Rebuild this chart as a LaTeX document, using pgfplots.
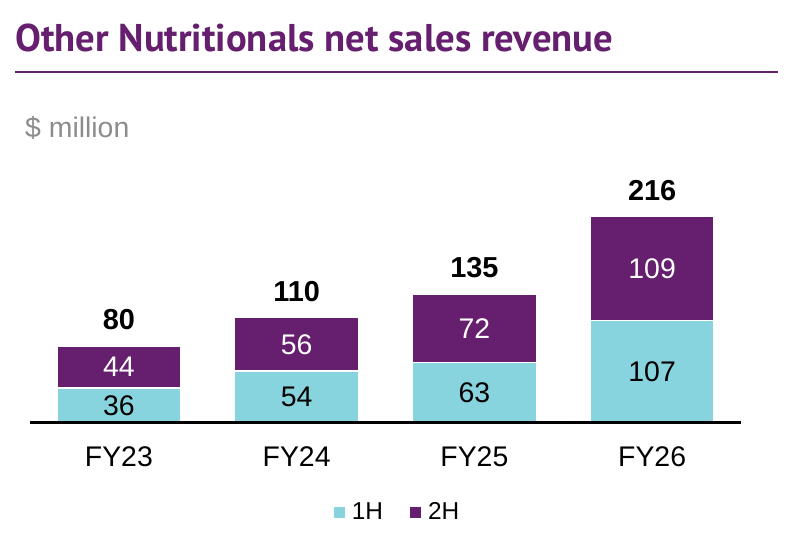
\documentclass[border=0pt]{standalone}
\usepackage{pgfplots}
\pgfplotsset{compat=1.18}
\usepackage{fontspec}
\setmainfont{Liberation Sans}
\newfontfamily\titlefont{PT Sans}
\definecolor{cyanbar}{HTML}{88D4DE}
\definecolor{purp}{HTML}{661E6E}
\definecolor{graytxt}{HTML}{8C8C8C}
\begin{document}
\begin{tikzpicture}[x=1bp,y=1bp]
\path[use as bounding box] (0,0) rectangle (800,535);
\node[anchor=base west, inner sep=0, text=purp, font=\titlefont\bfseries\fontsize{38.8}{42}\selectfont] at (15,483) {Other Nutritionals net sales revenue};
\draw[purp, line width=2.5bp] (15,463) -- (778,463);
\node[anchor=base west, inner sep=0, text=graytxt, font=\fontsize{28.5}{32}\selectfont] at (25,397) {\$ million};
\begin{axis}[
  at={(30bp,112.5bp)}, anchor=south west,
  scale only axis, width=711bp, height=205.8bp,
  xmin=-0.5, xmax=3.5, ymin=0, ymax=216,
  ybar stacked, bar width=124bp,
  axis x line*=bottom, axis y line=none,
  x axis line style={line width=3bp, black, -},
  axis on top,
  xtick={0,1,2,3}, xticklabels={FY23,FY24,FY25,FY26},
  major tick length=0,
  xticklabel style={anchor=base, yshift=-44bp, font=\fontsize{28.5}{32}\selectfont, inner sep=0},
  clip=false,
  legend columns=-1,
  legend style={at={(0.5155,-0.435)}, anchor=center, draw=none, fill=none,
    /tikz/every even column/.append style={column sep=27bp},
    /tikz/every odd column/.append style={column sep=7bp},
    nodes={inner sep=0pt, font=\fontsize{24.5}{28}\selectfont}},
  legend image code/.code={\path[#1, draw=none] (0bp,-5.5bp) rectangle (11bp,5.5bp);},
]
\addplot[fill=cyanbar, draw=white, line width=1.5bp] coordinates {(0,36) (1,54) (2,63) (3,107)};
\addplot[fill=purp, draw=white, line width=1.5bp] coordinates {(0,44) (1,56) (2,72) (3,109)};
\legend{1H,2H}
\end{axis}
\begin{axis}[
  at={(30bp,112.5bp)}, anchor=south west,
  scale only axis, width=711bp, height=205.8bp,
  xmin=-0.5, xmax=3.5, ymin=0, ymax=216,
  hide axis, clip=false,
]
\addplot[draw=none, mark=none, nodes near coords, point meta=explicit symbolic,
  nodes near coords style={anchor=center, inner sep=0, text=black, font=\fontsize{28.5}{32}\selectfont}]
  table[meta=lab] {
x y lab
0 18 36
1 27 54
2 31.5 63
3 53.5 107
};
\addplot[draw=none, mark=none, nodes near coords, point meta=explicit symbolic,
  nodes near coords style={anchor=center, inner sep=0, text=white, font=\fontsize{28.5}{32}\selectfont}]
  table[meta=lab] {
x y lab
0 58 44
1 82 56
2 99 72
3 161.5 109
};
\addplot[draw=none, mark=none, nodes near coords, point meta=explicit symbolic,
  nodes near coords style={anchor=base, inner sep=0, yshift=16.5bp, text=black, font=\bfseries\fontsize{29}{32}\selectfont}]
  table[meta=lab] {
x y lab
0 80 80
1 110 110
2 135 135
3 216 216
};
\end{axis}
\end{tikzpicture}
\end{document}
